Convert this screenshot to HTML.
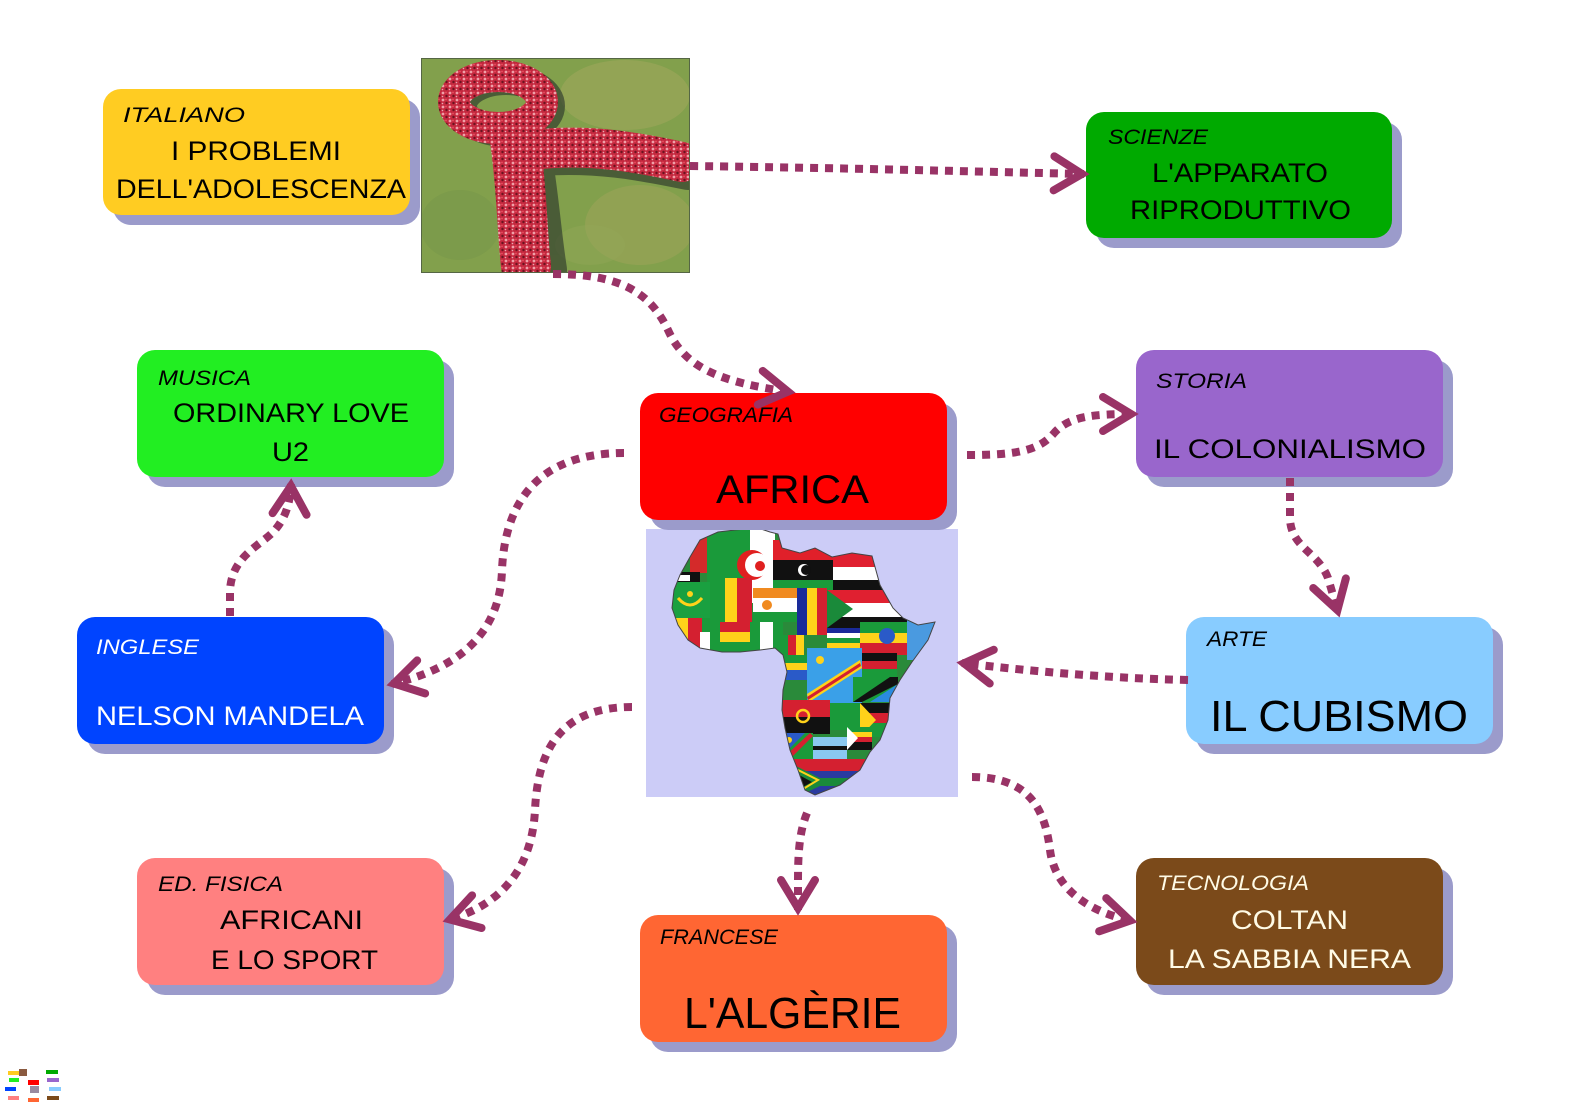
<!DOCTYPE html>
<html>
<head>
<meta charset="utf-8">
<style>
html,body{margin:0;padding:0;background:#fff;}
body{width:1579px;height:1116px;overflow:hidden;}
svg{display:block;}
text{font-family:"Liberation Sans","DejaVu Sans",sans-serif;}
.lab{font-style:italic;font-size:21px;}
.main{font-size:27px;}
.big{font-size:44px;}
</style>
</head>
<body>
<svg width="1579" height="1116" viewBox="0 0 1579 1116" xmlns="http://www.w3.org/2000/svg">
<defs>
  <marker id="ah" markerUnits="userSpaceOnUse" markerWidth="70" markerHeight="70" viewBox="-45 -35 70 70" refX="0" refY="0" orient="auto">
    <path d="M-30,-17 L-2,0 L-30,17" fill="none" stroke="#993366" stroke-width="8" stroke-dasharray="none" stroke-linecap="round" stroke-linejoin="miter"/>
  </marker>
  <clipPath id="africa">
    <path d="M700,540 L718,532 L735,530 L758,528 L770,532 L778,534 L782,548 L800,553 L815,548 L832,557 L852,553 L872,556 L880,585 L893,608 L903,618 L918,625 L935,622 L928,640 L912,662 L900,680 L890,698 L888,720 L880,740 L870,752 L860,770 L840,785 L815,795 L805,790 L798,770 L790,750 L785,728 L782,710 L783,690 L787,672 L783,655 L775,648 L760,650 L740,652 L722,652 L700,648 L688,640 L678,625 L672,608 L674,590 L680,575 L690,557 Z"/>
  </clipPath>
  <clipPath id="ribclip"><rect x="421" y="58" width="269" height="215"/></clipPath>
  <pattern id="crowd" patternUnits="userSpaceOnUse" width="7" height="7">
    <rect width="7" height="7" fill="#c4283e"/>
    <circle cx="2" cy="2" r="1.4" fill="#f0a0a8"/>
    <circle cx="5.5" cy="5" r="1.2" fill="#6a1420"/>
    <circle cx="5" cy="1.5" r="0.9" fill="#e85060"/>
    <circle cx="1.5" cy="5.5" r="0.8" fill="#ffffff" opacity="0.6"/>
  </pattern>
</defs>

<!-- bottom-left thumbnail -->
<g>
  <rect x="8" y="1071" width="11" height="4" fill="#ffcc22"/>
  <rect x="19" y="1069" width="8" height="7" fill="#8a5a40"/>
  <rect x="46" y="1070" width="12" height="4" fill="#00aa00"/>
  <rect x="9" y="1078" width="10" height="4" fill="#22ee22"/>
  <rect x="28" y="1080" width="11" height="5" fill="#ff0000"/>
  <rect x="47" y="1078" width="12" height="4" fill="#9966cc"/>
  <rect x="5" y="1087" width="11" height="4" fill="#0044ff"/>
  <rect x="30" y="1086" width="9" height="7" fill="#9a8aa0"/>
  <rect x="49" y="1087" width="12" height="4" fill="#88ccff"/>
  <rect x="8" y="1096" width="11" height="4" fill="#ff8080"/>
  <rect x="28" y="1098" width="11" height="4" fill="#ff6633"/>
  <rect x="47" y="1096" width="12" height="4" fill="#7b4a1a"/>
</g>

<!-- ribbon photo -->
<g clip-path="url(#ribclip)">
  <rect x="421" y="58" width="269" height="215" fill="#82a04c"/>
  <ellipse cx="625" cy="95" rx="65" ry="35" fill="#a8a862" opacity="0.45"/>
  <ellipse cx="640" cy="225" rx="55" ry="40" fill="#a8a460" opacity="0.4"/>
  <ellipse cx="460" cy="225" rx="40" ry="35" fill="#76964a" opacity="0.5"/>
  <ellipse cx="590" cy="245" rx="35" ry="20" fill="#94a85a" opacity="0.4"/>
  <!-- shadows -->
  <g fill="none" stroke="#26302a" stroke-linecap="round" opacity="0.6">
    <ellipse cx="506" cy="106" rx="44" ry="26" stroke-width="30"/>
    <path d="M540,158 C595,154 640,162 688,172" stroke-width="36"/>
    <path d="M528,150 C536,195 538,232 544,270" stroke-width="46"/>
  </g>
  <g fill="none" stroke="url(#crowd)" stroke-linecap="round">
    <ellipse cx="498" cy="102" rx="44" ry="26" stroke-width="32"/>
    <path d="M532,150 C590,143 640,153 682,162" stroke-width="40"/>
    <path d="M515,140 C522,190 522,230 526,266" stroke-width="50"/>
  </g>
</g>
<rect x="421.5" y="58.5" width="268" height="214" fill="none" stroke="#556644" stroke-width="1"/>

<!-- Africa map -->
<rect x="646" y="529" width="312" height="268" fill="#ccccf7"/>
<g clip-path="url(#africa)">
  <rect x="660" y="520" width="290" height="290" fill="#2a8a3a"/>
  <rect x="690" y="528" width="40" height="45" fill="#d42a2a"/>
  <rect x="707" y="528" width="43" height="75" fill="#1a9a3a"/>
  <rect x="750" y="528" width="25" height="75" fill="#ffffff"/>
  <circle cx="752" cy="565" r="15" fill="#e02020"/>
  <circle cx="757" cy="565" r="12" fill="#ffffff"/>
  <circle cx="760" cy="566" r="5" fill="#e02020"/>
  <rect x="773" y="540" width="60" height="20" fill="#e0202a"/>
  <rect x="773" y="560" width="60" height="20" fill="#111"/>
  <circle cx="804" cy="570" r="6" fill="#fff"/><circle cx="806" cy="570" r="5" fill="#111"/>
  <rect x="773" y="580" width="60" height="10" fill="#1a9a3a"/>
  <rect x="833" y="540" width="60" height="27" fill="#e02030"/>
  <rect x="833" y="567" width="60" height="13" fill="#fff"/>
  <rect x="833" y="580" width="60" height="10" fill="#111"/>
  <rect x="827" y="590" width="80" height="13" fill="#e02030"/>
  <rect x="827" y="603" width="80" height="14" fill="#fff"/>
  <rect x="827" y="617" width="80" height="11" fill="#111"/>
  <polygon points="827,590 853,609 827,628" fill="#1a8a3a"/>
  <rect x="797" y="588" width="10" height="47" fill="#1a2a9a"/>
  <rect x="807" y="588" width="10" height="47" fill="#ffd21a"/>
  <rect x="817" y="588" width="10" height="47" fill="#d42030"/>
  <rect x="753" y="588" width="44" height="10" fill="#f08a20"/>
  <rect x="753" y="598" width="44" height="14" fill="#fff"/>
  <circle cx="767" cy="605" r="5" fill="#f08a20"/>
  <rect x="753" y="612" width="44" height="10" fill="#1a9a3a"/>
  <rect x="710" y="578" width="15" height="44" fill="#1a9a3a"/>
  <rect x="725" y="578" width="12" height="44" fill="#ffd21a"/>
  <rect x="737" y="578" width="15" height="44" fill="#d42030"/>
  <rect x="670" y="572" width="30" height="10" fill="#111"/>
  <rect x="678" y="575" width="12" height="6" fill="#fff"/>
  <rect x="668" y="582" width="42" height="36" fill="#1aa040"/>
  <path d="M678,598 Q690,612 702,598" fill="none" stroke="#ffd21a" stroke-width="3"/>
  <circle cx="690" cy="594" r="3" fill="#ffd21a"/>
  <rect x="668" y="618" width="20" height="40" fill="#ffd21a"/>
  <rect x="688" y="618" width="14" height="40" fill="#d42030"/>
  <rect x="702" y="618" width="18" height="40" fill="#1a9a3a"/>
  <rect x="700" y="632" width="10" height="20" fill="#ffffff"/>
  <rect x="720" y="622" width="30" height="10" fill="#d42030"/>
  <rect x="720" y="632" width="30" height="10" fill="#ffd21a"/>
  <rect x="720" y="642" width="30" height="14" fill="#1a9a3a"/>
  <rect x="750" y="622" width="10" height="35" fill="#1a9a3a"/>
  <rect x="760" y="622" width="13" height="35" fill="#fff"/>
  <rect x="773" y="622" width="10" height="35" fill="#1a9a3a"/>
  <rect x="827" y="628" width="45" height="5" fill="#1a2a9a"/>
  <rect x="827" y="633" width="45" height="5" fill="#fff"/>
  <rect x="827" y="638" width="45" height="5" fill="#1a9a3a"/>
  <rect x="827" y="643" width="45" height="5" fill="#ffd21a"/>
  <rect x="860" y="622" width="55" height="11" fill="#1a9a3a"/>
  <rect x="860" y="633" width="55" height="10" fill="#ffd21a"/>
  <rect x="860" y="643" width="55" height="12" fill="#d42030"/>
  <circle cx="887" cy="636" r="8" fill="#2a5ac8"/>
  <rect x="907" y="615" width="35" height="45" fill="#4a9ae0"/>
  <rect x="780" y="635" width="8" height="30" fill="#1a9a3a"/>
  <rect x="788" y="635" width="8" height="30" fill="#d42030"/>
  <rect x="796" y="635" width="8" height="30" fill="#ffd21a"/>
  <rect x="780" y="655" width="27" height="8" fill="#1a9a3a"/>
  <rect x="780" y="663" width="27" height="7" fill="#ffd21a"/>
  <rect x="780" y="670" width="27" height="10" fill="#2a5ac8"/>
  <rect x="807" y="648" width="55" height="55" fill="#3aa0e8"/>
  <polygon points="807,694 860,660 862,668 809,702" fill="#ffd21a"/>
  <polygon points="807,697 860,663 861,666 808,700" fill="#d42030"/>
  <circle cx="820" cy="660" r="4" fill="#ffd21a"/>
  <rect x="862" y="653" width="35" height="8" fill="#111"/>
  <rect x="862" y="661" width="35" height="8" fill="#d42030"/>
  <rect x="862" y="669" width="35" height="8" fill="#1a9a3a"/>
  <rect x="853" y="677" width="45" height="25" fill="#1a9a3a"/>
  <polygon points="853,702 890,677 898,677 898,684 862,702" fill="#111"/>
  <polygon points="870,702 898,684 898,702" fill="#2a8ae0"/>
  <rect x="780" y="700" width="50" height="17" fill="#d42030"/>
  <rect x="780" y="717" width="50" height="17" fill="#111"/>
  <circle cx="803" cy="716" r="6" fill="none" stroke="#ffd21a" stroke-width="2.5"/>
  <rect x="830" y="703" width="30" height="27" fill="#1a9a3a"/>
  <rect x="860" y="703" width="30" height="10" fill="#111"/>
  <rect x="860" y="713" width="30" height="10" fill="#d42030"/>
  <rect x="860" y="723" width="30" height="14" fill="#1a9a3a"/>
  <polygon points="860,703 876,720 860,737" fill="#ffd21a"/>
  <rect x="783" y="733" width="30" height="30" fill="#1a9a3a"/>
  <polygon points="783,733 805,733 783,755" fill="#2a5ac8"/>
  <polygon points="783,758 810,733 813,736 786,763" fill="#d42030"/>
  <circle cx="789" cy="740" r="3" fill="#ffd21a"/>
  <rect x="813" y="737" width="34" height="9" fill="#8ac8f0"/>
  <rect x="813" y="746" width="34" height="4" fill="#111"/>
  <rect x="813" y="750" width="34" height="9" fill="#8ac8f0"/>
  <rect x="847" y="727" width="25" height="5" fill="#1a9a3a"/>
  <rect x="847" y="732" width="25" height="5" fill="#ffd21a"/>
  <rect x="847" y="737" width="25" height="5" fill="#d42030"/>
  <rect x="847" y="742" width="25" height="8" fill="#111"/>
  <polygon points="847,727 858,738 847,750" fill="#fff"/>
  <rect x="790" y="759" width="75" height="12" fill="#d42030"/>
  <rect x="790" y="771" width="75" height="30" fill="#2a3aa0"/>
  <polygon points="790,763 820,778 865,778 865,786 820,786 790,800" fill="#1a8a3a"/>
  <polygon points="790,770 812,782 790,794" fill="#111"/>
  <path d="M790,766 L818,780 L790,797" fill="none" stroke="#ffd21a" stroke-width="2"/>
</g>
<path d="M700,540 L718,532 L735,530 L758,528 L770,532 L778,534 L782,548 L800,553 L815,548 L832,557 L852,553 L872,556 L880,585 L893,608 L903,618 L918,625 L935,622 L928,640 L912,662 L900,680 L890,698 L888,720 L880,740 L870,752 L860,770 L840,785 L815,795 L805,790 L798,770 L790,750 L785,728 L782,710 L783,690 L787,672 L783,655 L775,648 L760,650 L740,652 L722,652 L700,648 L688,640 L678,625 L672,608 L674,590 L680,575 L690,557 Z" fill="none" stroke="#444" stroke-width="1"/>

<!-- Box shadows -->
<g fill="#9b9bcb">
  <rect x="113" y="99" width="307" height="126" rx="18"/>
  <rect x="1096" y="122" width="306" height="126" rx="18"/>
  <rect x="147" y="360" width="307" height="127" rx="18"/>
  <rect x="650" y="403" width="307" height="127" rx="18"/>
  <rect x="1146" y="360" width="307" height="127" rx="18"/>
  <rect x="87" y="627" width="307" height="127" rx="18"/>
  <rect x="1196" y="627" width="307" height="127" rx="18"/>
  <rect x="147" y="868" width="307" height="127" rx="18"/>
  <rect x="650" y="925" width="307" height="127" rx="18"/>
  <rect x="1146" y="868" width="307" height="127" rx="18"/>
</g>
<!-- Boxes -->
<rect x="103" y="89" width="307" height="126" rx="18" fill="#ffcc22"/>
<rect x="1086" y="112" width="306" height="126" rx="18" fill="#00aa00"/>
<rect x="137" y="350" width="307" height="127" rx="18" fill="#22ee22"/>
<rect x="640" y="393" width="307" height="127" rx="18" fill="#ff0000"/>
<rect x="1136" y="350" width="307" height="127" rx="18" fill="#9966cc"/>
<rect x="77" y="617" width="307" height="127" rx="18" fill="#0044ff"/>
<rect x="1186" y="617" width="307" height="127" rx="18" fill="#88ccff"/>
<rect x="137" y="858" width="307" height="127" rx="18" fill="#ff8080"/>
<rect x="640" y="915" width="307" height="127" rx="18" fill="#ff6633"/>
<rect x="1136" y="858" width="307" height="127" rx="18" fill="#7b4a1a"/>

<!-- Connectors -->
<g fill="none" stroke="#993366" stroke-width="8" stroke-dasharray="8 7" marker-end="url(#ah)">
  <path d="M690,166 C850,168 950,171 1084,174"/>
  <path d="M553,274 C620,274 650,292 668,330 C685,368 720,382 790,392"/>
  <path d="M967,455 C1020,455 1040,450 1055,432 C1070,416 1095,414 1133,414"/>
  <path d="M1290,478 L1290,520 C1292,548 1318,552 1328,578 L1338,612"/>
  <path d="M1188,680 C1100,678 1020,670 962,663"/>
  <path d="M624,453 C540,453 505,500 502,570 C500,640 450,670 392,684"/>
  <path d="M230,616 L230,590 C232,555 262,545 275,530 C285,518 290,505 291,484"/>
  <path d="M632,707 C560,707 538,750 535,810 C532,870 500,905 448,920"/>
  <path d="M807,813 C800,830 798,850 798,880 L798,910"/>
  <path d="M972,777 C1030,777 1045,810 1050,850 C1055,890 1090,912 1132,921"/>
</g>

<!-- Texts -->
<g fill="#000">
  <text class="lab" x="123" y="122" textLength="122" lengthAdjust="spacingAndGlyphs">ITALIANO</text>
  <text class="main" x="171" y="160" textLength="170" lengthAdjust="spacingAndGlyphs">I PROBLEMI</text>
  <text class="main" x="116" y="198" textLength="290" lengthAdjust="spacingAndGlyphs">DELL'ADOLESCENZA</text>

  <text class="lab" x="1108" y="144" textLength="100" lengthAdjust="spacingAndGlyphs">SCIENZE</text>
  <text class="main" x="1152" y="182" textLength="176" lengthAdjust="spacingAndGlyphs">L'APPARATO</text>
  <text class="main" x="1130" y="219" textLength="221" lengthAdjust="spacingAndGlyphs">RIPRODUTTIVO</text>

  <text class="lab" x="158" y="385" textLength="93" lengthAdjust="spacingAndGlyphs">MUSICA</text>
  <text class="main" x="173" y="422" textLength="236" lengthAdjust="spacingAndGlyphs">ORDINARY LOVE</text>
  <text class="main" x="272" y="461" textLength="37" lengthAdjust="spacingAndGlyphs">U2</text>

  <text class="lab" x="659" y="422" textLength="134" lengthAdjust="spacingAndGlyphs">GEOGRAFIA</text>
  <text class="big" style="font-size:40px" x="716" y="503" textLength="153" lengthAdjust="spacingAndGlyphs">AFRICA</text>

  <text class="lab" x="1156" y="388" textLength="91" lengthAdjust="spacingAndGlyphs">STORIA</text>
  <text class="main" x="1154" y="458" textLength="272" lengthAdjust="spacingAndGlyphs">IL COLONIALISMO</text>

  <text class="lab" x="96" y="654" textLength="103" lengthAdjust="spacingAndGlyphs" fill="#fff">INGLESE</text>
  <text class="main" x="96" y="725" textLength="268" lengthAdjust="spacingAndGlyphs" fill="#fff">NELSON MANDELA</text>

  <text class="lab" x="1207" y="646" textLength="60" lengthAdjust="spacingAndGlyphs">ARTE</text>
  <text class="big" x="1210" y="731" textLength="258" lengthAdjust="spacingAndGlyphs">IL CUBISMO</text>

  <text class="lab" x="158" y="891" textLength="125" lengthAdjust="spacingAndGlyphs">ED. FISICA</text>
  <text class="main" x="220" y="929" textLength="143" lengthAdjust="spacingAndGlyphs">AFRICANI</text>
  <text class="main" x="211" y="969" textLength="167" lengthAdjust="spacingAndGlyphs">E LO SPORT</text>

  <text class="lab" x="660" y="944" textLength="118" lengthAdjust="spacingAndGlyphs">FRANCESE</text>
  <text class="big" x="684" y="1028" textLength="217" lengthAdjust="spacingAndGlyphs">L'ALGÈRIE</text>

  <text class="lab" x="1157" y="890" textLength="152" lengthAdjust="spacingAndGlyphs" fill="#fffbe6">TECNOLOGIA</text>
  <text class="main" x="1231" y="929" textLength="117" lengthAdjust="spacingAndGlyphs" fill="#fffbe6">COLTAN</text>
  <text class="main" x="1168" y="968" textLength="243" lengthAdjust="spacingAndGlyphs" fill="#fffbe6">LA SABBIA NERA</text>
</g>
</svg>
</body>
</html>
